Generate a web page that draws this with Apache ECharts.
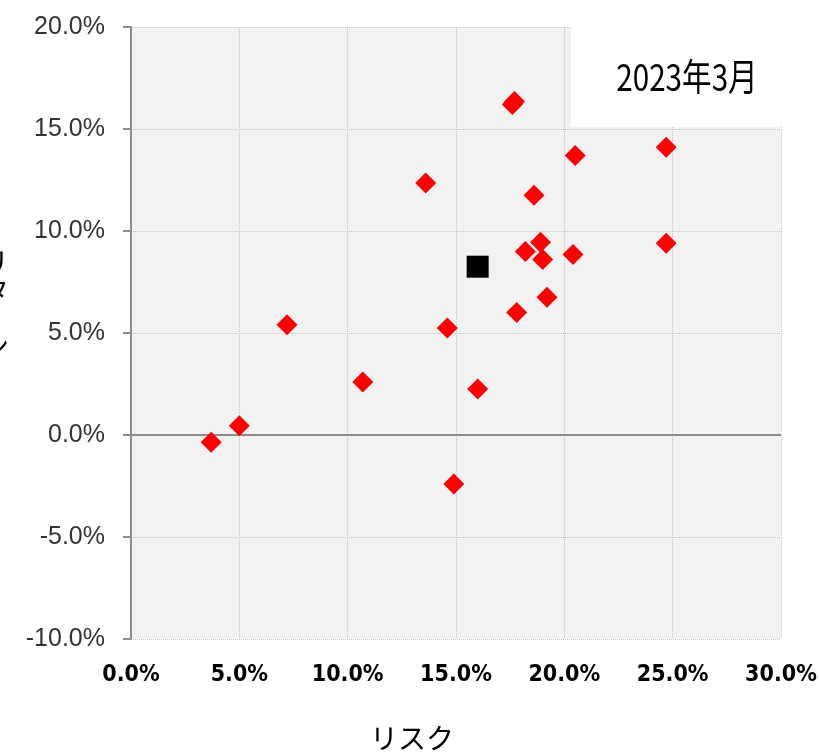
<!DOCTYPE html>
<html><head><meta charset="utf-8">
<script src="https://cdn.jsdelivr.net/npm/echarts@6/dist/echarts.min.js"></script>
<style>html,body{margin:0;padding:0;background:#fff}#c{width:820px;height:752px}</style>
</head><body><div id="c"></div>
<script>
// Data (percent units)
const fundRisk   = [3.7, 5.0, 7.2, 10.7, 13.6, 14.6, 14.9, 16.0, 17.6, 17.7, 17.8, 18.6, 18.2, 18.9, 19.0, 19.2, 20.4, 20.5, 24.7, 24.7];
const fundReturn = [-0.35, 0.45, 5.4, 2.6, 12.35, 5.25, -2.4, 2.25, 16.2, 16.35, 6.0, 11.75, 9.0, 9.45, 8.6, 6.75, 8.85, 13.7, 14.1, 9.4];
const benchRisk   = [16.0];
const benchReturn = [8.25];
const xTicks = [0, 5, 10, 15, 20, 25, 30];
const yTicks = [-10, -5, 0, 5, 10, 15, 20];
const titleText = '2023年3月';
const xName = 'リスク';
const yNameChars = ['リ', 'タ', 'ー', 'ン'];

const chart = echarts.init(document.getElementById('c'));
const fmt = v => v.toFixed(1) + '%';
const yGraphics = yNameChars.map((ch, i) => ({
  type: 'text', z: 10,
  x: -5, y: 262 + i * 28,
  rotation: ch === 'ー' ? -Math.PI / 2 : 0,
  style: { text: ch, fontSize: 28, fontFamily: 'Noto Sans CJK JP', fill: '#000', align: 'center', verticalAlign: 'middle' }
}));
chart.setOption({
  animation: false,
  grid: { left: 131, right: 39, top: 27, bottom: 113, show: true, backgroundColor: '#f2f2f2', borderWidth: 0, containLabel: false, outerBoundsMode: 'none' },
  xAxis: {
    type: 'value', min: xTicks[0], max: xTicks[xTicks.length - 1], interval: 5,
    axisLine: { show: false }, axisTick: { show: false },
    axisLabel: { formatter: fmt, fontFamily: 'DejaVu Sans Condensed, Liberation Sans, sans-serif', fontWeight: 'bold', fontSize: 23, color: '#000', margin: 25 },
    splitLine: { show: true, lineStyle: { color: '#c4c4c4', type: 'dotted', width: 1 } }
  },
  yAxis: {
    type: 'value', min: yTicks[0], max: yTicks[yTicks.length - 1], interval: 5,
    axisLine: { show: true, lineStyle: { color: '#8c8c8c', width: 2 } },
    axisTick: { show: true, length: 8, lineStyle: { color: '#8c8c8c', width: 2 } },
    axisLabel: { formatter: fmt, fontFamily: 'Liberation Sans', fontSize: 25, color: '#333', margin: 26 },
    splitLine: { show: true, lineStyle: { color: '#c4c4c4', type: 'dotted', width: 1 } }
  },
  graphic: [
    { type: 'rect', z: 1, shape: { x: 571, y: 26, width: 211, height: 101 }, style: { fill: '#ffffff' } },
    { type: 'text', z: 10, x: 687, y: 77, scaleX: 0.8,
      style: { text: titleText, fontSize: 37, fontFamily: 'Noto Sans CJK JP', fill: '#000', align: 'center', verticalAlign: 'middle' } },
    { type: 'text', z: 10, x: 412, y: 738,
      style: { text: xName, fontSize: 28, fontFamily: 'Noto Sans CJK JP', fill: '#000', align: 'center', verticalAlign: 'middle' } },
    ...yGraphics
  ],
  series: [
    {
      type: 'scatter', symbol: 'diamond', symbolSize: 21,
      itemStyle: { color: '#ff0000', opacity: 1 },
      data: fundRisk.map((x, i) => [x, fundReturn[i]]),
      markLine: {
        silent: true, symbol: 'none', label: { show: false },
        lineStyle: { color: '#8c8c8c', width: 2, type: 'solid' },
        data: [{ yAxis: 0 }]
      },
      z: 5
    },
    {
      type: 'scatter', symbol: 'rect', symbolSize: 22,
      itemStyle: { color: '#000000', opacity: 1 },
      data: benchRisk.map((x, i) => [x, benchReturn[i]]),
      z: 6
    }
  ]
});
</script></body></html>
